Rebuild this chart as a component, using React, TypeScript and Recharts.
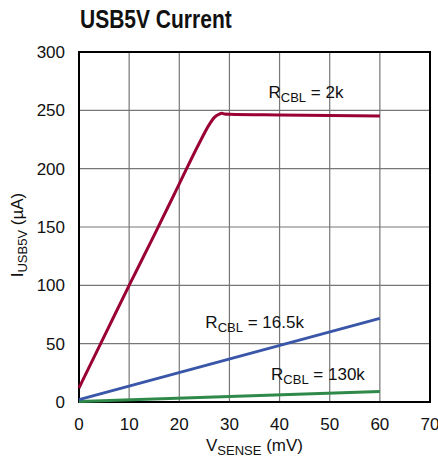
import React from 'react';
import { LineChart, Line, XAxis, YAxis, CartesianGrid, ReferenceArea, ReferenceDot, Label } from 'recharts';

const FONT = '"Liberation Sans", Arial, sans-serif';

const xTicks = [0, 10, 20, 30, 40, 50, 60, 70];
const yTicks = [0, 50, 100, 150, 200, 250, 300];

// R_CBL = 2k
const vsense2k = [0, 5, 10, 15, 20, 24, 26, 27, 28, 28.5, 29, 30, 40, 50, 60];
const i2k = [12, 56, 100, 143, 187, 222, 238, 244, 246.8, 247.4, 246.8, 246.6, 246, 245.5, 245.1];
// R_CBL = 16.5k
const vsense16k = [0, 60];
const i16k = [2, 71.7];
// R_CBL = 130k
const vsense130k = [0, 60];
const i130k = [0.5, 8.9];

const s2k = vsense2k.map((x, k) => ({ x, y: i2k[k] }));
const s16k = vsense16k.map((x, k) => ({ x, y: i16k[k] }));
const s130k = vsense130k.map((x, k) => ({ x, y: i130k[k] }));

const labels = [
  { x: 37.8, y: 261, value: '2k' },
  { x: 25.2, y: 63.4, value: '16.5k' },
  { x: 38.3, y: 18.9, value: '130k' },
];

const RLabel = (value: string) => (p: any) => (
  <text x={p.cx} y={p.cy} fontFamily={FONT} fontSize={17} fill="#111" textAnchor="start">
    <tspan>R</tspan>
    <tspan fontSize={13} dy={4}>CBL</tspan>
    <tspan dy={-4}>{` = ${value}`}</tspan>
  </text>
);

const XLabel = (props: any) => {
  const vb = props.viewBox || {};
  const cx = vb.x + vb.width / 2;
  return (
    <text x={cx} y={451} fontFamily={FONT} fontSize={17} fill="#111" textAnchor="middle">
      <tspan>V</tspan>
      <tspan fontSize={13} dy={4}>SENSE</tspan>
      <tspan dy={-4}> (mV)</tspan>
    </text>
  );
};

const YLabel = (props: any) => {
  const vb = props.viewBox || {};
  const cy = vb.y + vb.height / 2 + 8;
  const cx = 23;
  return (
    <text x={cx} y={cy} fontFamily={FONT} fontSize={17} fill="#111" textAnchor="middle" transform={`rotate(-90 ${cx} ${cy})`}>
      <tspan>I</tspan>
      <tspan fontSize={13} dy={4}>USB5V</tspan>
      <tspan dy={-4}> (µA)</tspan>
    </text>
  );
};

export default function App() {
  return (
    <div style={{ position: 'absolute', left: 0, top: 0, width: 438, height: 458, background: '#fff' }}>
      <div
        style={{
          position: 'absolute',
          left: 80,
          top: 2,
          fontFamily: FONT,
          fontWeight: 'bold',
          fontSize: 25,
          color: '#111',
          lineHeight: '34px',
          whiteSpace: 'nowrap',
          transform: 'scaleX(0.84)',
          transformOrigin: 'left center',
        }}
      >
        USB5V Current
      </div>
      <LineChart width={438} height={458} margin={{ top: 52, right: 8, bottom: 0, left: 0 }}>
        <CartesianGrid stroke="#777" strokeWidth={1.2} />
        <XAxis
          type="number"
          dataKey="x"
          domain={[0, 70]}
          ticks={xTicks}
          interval={0}
          tickLine={false}
          axisLine={false}
          height={56}
          tickMargin={10}
          tick={{ fontFamily: FONT, fontSize: 17, fill: '#111' }}
        >
          <Label content={XLabel} />
        </XAxis>
        <YAxis
          type="number"
          dataKey="y"
          domain={[0, 300]}
          ticks={yTicks}
          interval={0}
          tickLine={false}
          axisLine={false}
          width={79}
          tickMargin={8}
          tick={{ fontFamily: FONT, fontSize: 17, fill: '#111' }}
        >
          <Label content={YLabel} />
        </YAxis>
        <ReferenceArea x1={0} x2={70} y1={0} y2={300} fill="none" stroke="#000" strokeWidth={2} ifOverflow="visible" />
        <Line data={s130k} dataKey="y" type="linear" stroke="#2f8a4a" strokeWidth={3} dot={false} isAnimationActive={false} />
        <Line data={s16k} dataKey="y" type="linear" stroke="#3a56a8" strokeWidth={3} dot={false} isAnimationActive={false} />
        <Line data={s2k} dataKey="y" type="monotone" stroke="#9a0036" strokeWidth={3} dot={false} isAnimationActive={false} />
        {labels.map((l) => (
          <ReferenceDot key={l.value} x={l.x} y={l.y} r={0} ifOverflow="visible" shape={RLabel(l.value)} />
        ))}
      </LineChart>
    </div>
  );
}
